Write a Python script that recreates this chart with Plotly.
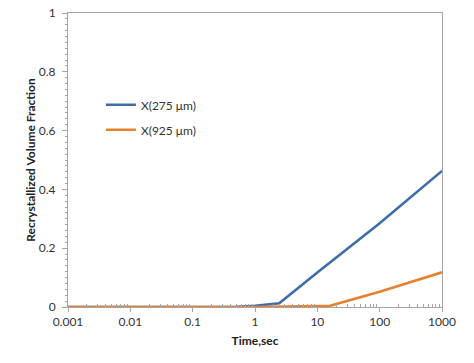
import plotly.graph_objects as go

time_275 = [0.001, 0.01, 0.1, 0.5, 1, 2.45, 10, 100, 1000]
frac_275 = [0.0, 0.0, 0.0, 0.001, 0.004, 0.0126, 0.117, 0.285, 0.463]
time_925 = [0.001, 0.01, 0.1, 1, 16, 100, 1000]
frac_925 = [0.0, 0.0, 0.0, 0.0, 0.004, 0.052, 0.118]
x_ticks = [0.001, 0.01, 0.1, 1, 10, 100, 1000]
x_tick_labels = ["0.001", "0.01", "0.1", "1", "10", "100", "1000"]
y_ticks = [0, 0.2, 0.4, 0.6, 0.8, 1]
y_tick_labels = ["0", "0.2", "0.4", "0.6", "0.8", "1"]

fig = go.Figure()
fig.add_trace(go.Scatter(x=time_275, y=frac_275, mode="lines", name="X(275 μm)",
                         legendgroup="a", line=dict(color="#3E6DAA", width=2.6)))
fig.add_trace(go.Scatter(x=time_925, y=frac_925, mode="lines", name="X(925 μm)",
                         legendgroup="b", line=dict(color="#E8812F", width=2.6)))

axis_col = "#A6A6A6"
font = "Lato, Open Sans, Liberation Sans, sans-serif"
fig.update_layout(
    width=474, height=363,
    margin=dict(l=68, r=32, t=13, b=56, autoexpand=False),
    paper_bgcolor="white", plot_bgcolor="white",
    font=dict(family=font, size=12, color="#333333"),
    showlegend=True,
    legend=dict(x=0.088, y=0.737, xanchor="left", yanchor="top",
                bgcolor="rgba(0,0,0,0)", tracegroupgap=6,
                font=dict(size=12, color="#333333")),
    xaxis=dict(type="log", range=[-3, 3], tickvals=x_ticks, ticktext=x_tick_labels,
               automargin=False, ticklabeloverflow="allow",
               showgrid=False, zeroline=False, showline=True, linecolor=axis_col,
               linewidth=1, mirror=True, ticks="outside", ticklen=4, tickcolor=axis_col,
               minor=dict(ticks="inside", ticklen=3, tickcolor=axis_col,
                          tickvals=[m * 10 ** e for e in range(-3, 3) for m in range(2, 10)]),
               title=dict(text="<b>Time,sec</b>", font=dict(size=12, color="#222222"), standoff=8)),
    yaxis=dict(range=[0, 1], tickvals=y_ticks, ticktext=y_tick_labels,
               automargin=False, ticklabeloverflow="allow", ticklabelstandoff=4,
               showgrid=False, zeroline=False, showline=True, linecolor=axis_col,
               linewidth=1, mirror=True, ticks="outside", ticklen=5, tickcolor=axis_col,
               minor=dict(ticks="outside", ticklen=2, tickcolor=axis_col, dtick=0.02),
               title=dict(text="<b>Recrystallized Volume Fraction</b>",
                          font=dict(size=12, color="#222222"), standoff=0)),
)

fig.write_html("out.html", config={"displayModeBar": False},
               post_script="document.body.style.margin='0';")
